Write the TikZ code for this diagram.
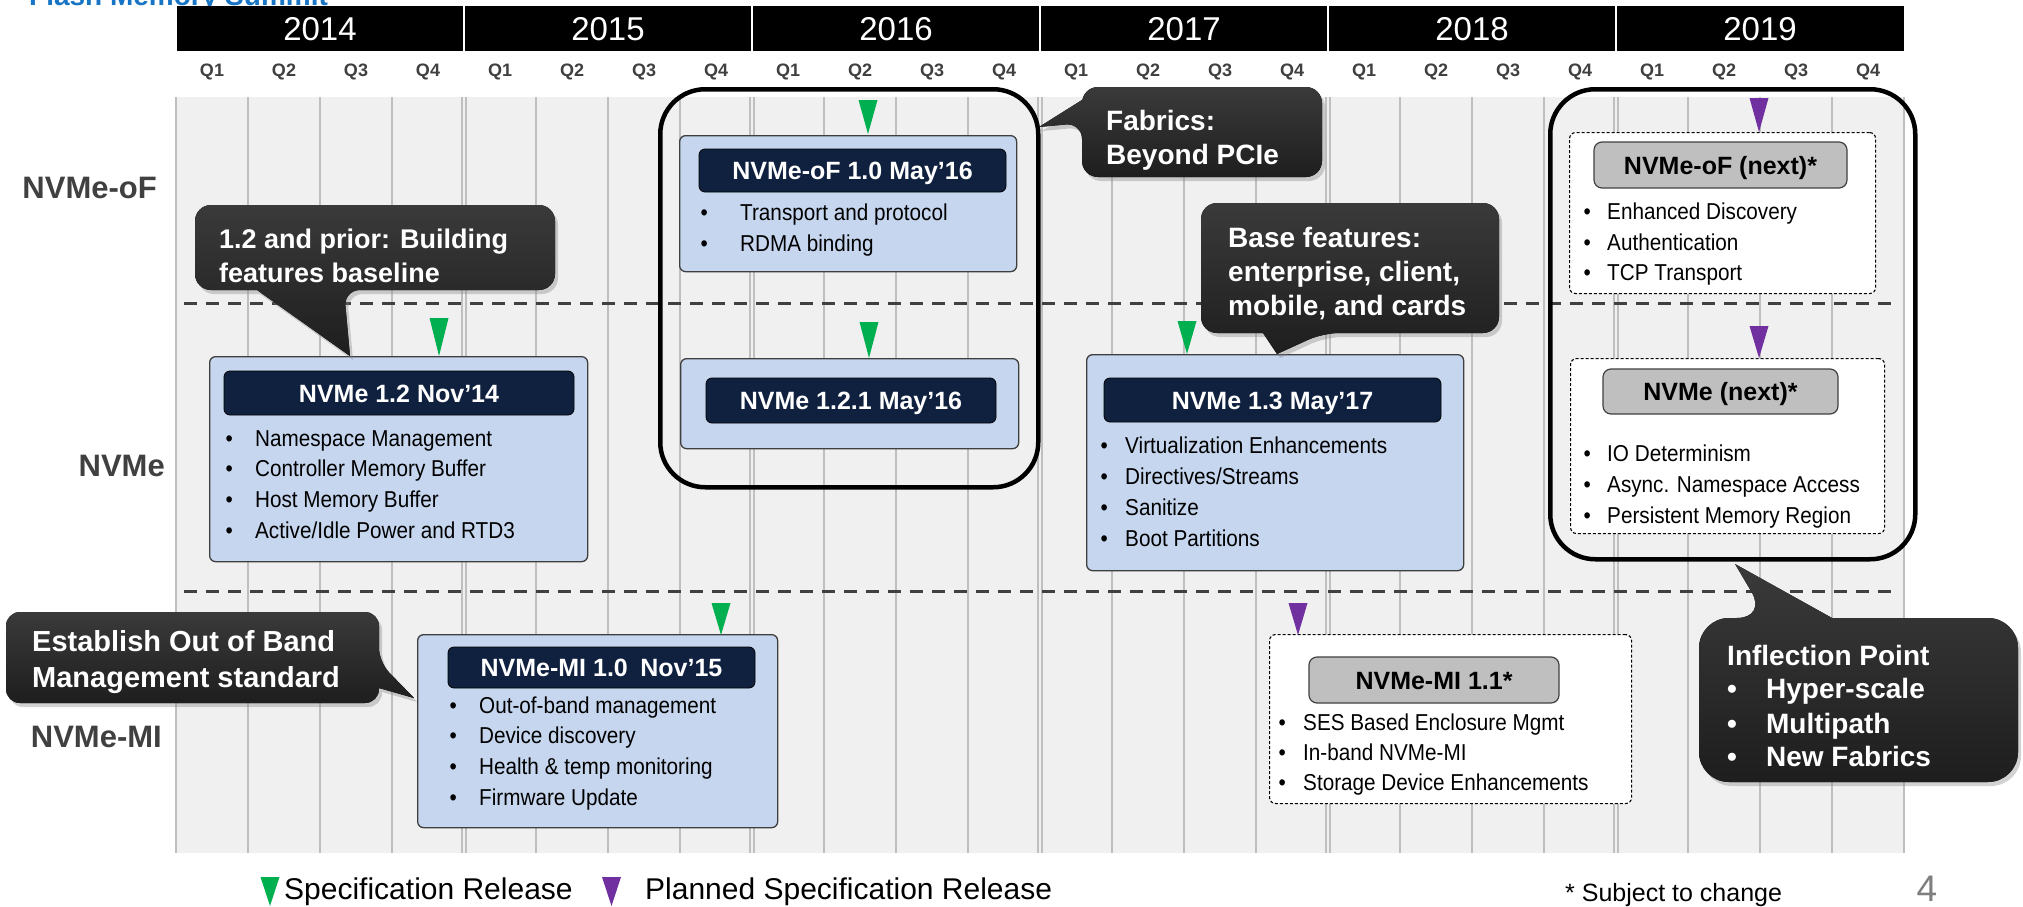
\documentclass[tikz,border=0pt]{standalone}
\usepackage{fontspec}
\setmainfont{Liberation Sans}
\newfontfamily\narrowfont[FakeStretch=0.9]{Liberation Sans}
\usetikzlibrary{shadows}
\definecolor{gridbg}{HTML}{F0F0F0}
\definecolor{gridln}{HTML}{BFBFBF}
\definecolor{dkgray}{HTML}{404040}
\definecolor{boxblue}{HTML}{C5D6EE}
\definecolor{boxedge}{HTML}{3F3F3F}
\definecolor{navy}{HTML}{0F213F}
\definecolor{hdrgray}{HTML}{BFBFBF}
\definecolor{specgreen}{HTML}{00B050}
\definecolor{planpurple}{HTML}{7030A0}
\definecolor{calltop}{HTML}{3A3A3A}
\definecolor{callbot}{HTML}{1E1E1E}
\definecolor{fmsblue}{HTML}{1874C4}
\definecolor{pagegray}{HTML}{7F7F7F}
\newcommand\myfs[1]{\fontsize{#1pt}{#1pt}\selectfont}
\newcommand\bitem[5]{\node[btext] (#1) at (#2,#3) {\makebox[#4pt][l]{\textbullet}#5};}
\newcommand\mytri[4]{\fill[#1] ({#2-9.5},#3) -- ({#2+9.5},#3) -- (#2,#4) -- cycle;}
\tikzset{
 yearlbl/.style={anchor=base, text=white, font=\myfs{33}, inner sep=0pt},
 qlbl/.style={anchor=base, text=dkgray, font=\bfseries\myfs{18}, inner sep=0pt},
 rowlbl/.style={anchor=base east, text=dkgray, font=\bfseries\myfs{31}, inner sep=0pt},
 gridline/.style={draw=gridln, line width=2.2pt},
 sepline/.style={draw=dkgray, line width=3pt, dash pattern=on 13pt off 9pt},
 bigframe/.style={draw=black, line width=4.5pt, rounded corners=45pt, anchor=north west, inner sep=0pt},
 bluebox/.style={fill=boxblue, draw=boxedge, line width=1.3pt, rounded corners=6pt, anchor=north west, inner sep=0pt},
 dotbox/.style={fill=white, draw=black, line width=1.1pt, dash pattern=on 3pt off 2pt, rounded corners=6pt, anchor=north west, inner sep=0pt},
 hdr/.style={fill=navy, draw=black, line width=0.8pt, rounded corners=6pt, text=white, font=\bfseries\myfs{25}, text height=18pt, text depth=0pt, inner sep=0pt},
 ghdr/.style={fill=hdrgray, draw=dkgray, line width=1.2pt, rounded corners=8pt, text=black, font=\bfseries\myfs{25}, text height=18pt, text depth=0pt, inner sep=0pt},
 btext/.style={anchor=base west, font=\narrowfont\myfs{23}, inner sep=0pt, text=black},
 ctext/.style={anchor=base west, font=\bfseries\myfs{28}, text=white, inner sep=0pt},
 calloutbox/.style={top color=calltop, bottom color=callbot, draw=none, drop shadow={shadow xshift=3pt, shadow yshift=-4pt, opacity=0.35}},
 specmark/.style={fill=specgreen},
 planmark/.style={fill=planpurple},
 legtext/.style={anchor=base west, font=\myfs{30}, inner sep=0pt, text=black},
}
\begin{document}
\begin{tikzpicture}[x=1pt,y=-1pt]
\useasboundingbox (0,0) rectangle (2023,907);
\fill[white] (0,0) rectangle (2023,907);
\node[anchor=base west, inner sep=0pt, text=fmsblue, font=\bfseries\myfs{28}] (logo) at (29,6) {Flash Memory Summit};

% year bar
\fill[black] (177,6) rectangle (1904,51);
\foreach \yr [count=\i from 0] in {2014,2015,2016,2017,2018,2019}{
  \node[yearlbl] (y\yr) at ({176+288*\i+144},41) {\yr};
  \foreach \q in {1,2,3,4}{\node[qlbl] (q\yr\q) at ({176+288*\i+72*\q-36},76.5) {Q\q};}
}
\foreach \i in {1,...,5}{\draw[white, line width=1.5pt] ({176+288*\i},6) -- ({176+288*\i},51);}

% grid
\fill[gridbg] (176,97) rectangle (1904,853);
\foreach \i in {0,...,5}{\foreach \q in {1,2,3}{\draw[gridline] ({176+288*\i+72*\q},97) -- ({176+288*\i+72*\q},853);}}
\foreach \i in {1,...,5}{\draw[gridline] ({176+288*\i-2},97) -- ({176+288*\i-2},853);
  \draw[gridline] ({176+288*\i+2},97) -- ({176+288*\i+2},853);}
\draw[gridline] (176,97) -- (176,853);
\draw[gridline] (1904,97) -- (1904,853);

% row separators
\coordinate (s1a) at (184,303); \coordinate (s1b) at (1899,303);
\coordinate (s2a) at (184,591); \coordinate (s2b) at (1899,591);
\draw[sepline] (s1a) -- (s1b);
\draw[sepline] (s2a) -- (s2b);

% row labels
\node[rowlbl] (rof) at (157,198) {NVMe-oF};
\node[rowlbl] (rnv) at (165,476) {NVMe};
\node[rowlbl] (rmi) at (162,747) {NVMe-MI};

% big frames
\node[bigframe, minimum width=378pt, minimum height=398pt] (f16) at (658,87) {};
\node[bigframe, minimum width=365pt, minimum height=470pt] (f19) at (1548,87) {};

% NVMe 1.2
\node[bluebox, minimum width=378pt, minimum height=205pt] (b12) at (209,356) {};
\node[hdr, minimum width=350pt, minimum height=44pt] (b12h) at (399,393) {NVMe 1.2 Nov’14};
\bitem{b12a}{225.4}{446}{29.6}{Namespace Management}
\bitem{b12b}{225.4}{476}{29.6}{Controller Memory Buffer}
\bitem{b12c}{225.4}{507}{29.6}{Host Memory Buffer}
\bitem{b12d}{225.4}{538}{29.6}{Active/Idle Power and RTD3}

% NVMe-oF 1.0
\node[bluebox, minimum width=337pt, minimum height=136pt] (bof) at (679,135) {};
\node[hdr, minimum width=307pt, minimum height=43pt] (bofh) at (852.5,170.5) {NVMe-oF 1.0 May’16};
\bitem{bofa}{700.4}{220}{39.6}{Transport and protocol}
\bitem{bofb}{700.4}{251}{39.6}{RDMA binding}

% NVMe 1.2.1
\node[bluebox, minimum width=338pt, minimum height=90pt] (b121) at (680,358) {};
\node[hdr, minimum width=290pt, minimum height=45pt] (b121h) at (851,400.5) {NVMe 1.2.1 May’16};

% NVMe 1.3
\node[bluebox, minimum width=377pt, minimum height=216pt] (b13) at (1086,354) {};
\node[hdr, minimum width=337pt, minimum height=44pt] (b13h) at (1272.5,400) {NVMe 1.3 May’17};
\bitem{b13a}{1100.4}{453}{24.6}{Virtualization Enhancements}
\bitem{b13b}{1100.4}{484}{24.6}{Directives/Streams}
\bitem{b13c}{1100.4}{515}{24.6}{Sanitize}
\bitem{b13d}{1100.4}{546}{24.6}{Boot Partitions}

% NVMe-MI 1.0
\node[bluebox, minimum width=360pt, minimum height=193pt] (bmi10) at (417,634) {};
\node[hdr, minimum width=307pt, minimum height=41pt] (bmi10h) at (601.5,667.5) {NVMe-MI 1.0\hspace{0.5em}Nov’15};
\bitem{bmia}{449.4}{713}{29.6}{Out-of-band management}
\bitem{bmib}{449.4}{743}{29.6}{Device discovery}
\bitem{bmic}{449.4}{774}{29.6}{Health \& temp monitoring}
\bitem{bmid}{449.4}{805}{29.6}{Firmware Update}

% NVMe-MI 1.1 (planned)
\node[dotbox, minimum width=362pt, minimum height=169pt] (bmi11) at (1269,634) {};
\node[ghdr, minimum width=250pt, minimum height=46pt] (bmi11h) at (1434,680) {NVMe-MI 1.1*};
\bitem{bmxa}{1278.4}{730}{24.6}{SES Based Enclosure Mgmt}
\bitem{bmxb}{1278.4}{760}{24.6}{In-band NVMe-MI}
\bitem{bmxc}{1278.4}{790}{24.6}{Storage Device Enhancements}

% NVMe-oF next
\node[dotbox, minimum width=306pt, minimum height=161pt] (bofn) at (1569,132) {};
\node[ghdr, minimum width=253pt, minimum height=46pt] (bofnh) at (1720.5,165) {NVMe-oF (next)*};
\bitem{bona}{1583.4}{219}{23.6}{Enhanced Discovery}
\bitem{bonb}{1583.4}{250}{23.6}{Authentication}
\bitem{bonc}{1583.4}{280}{23.6}{TCP Transport}

% NVMe next
\node[dotbox, minimum width=314pt, minimum height=175pt] (bnn) at (1570,358) {};
\node[ghdr, minimum width=235pt, minimum height=45pt] (bnnh) at (1720.5,391.5) {NVMe (next)*};
\bitem{bnna}{1583.4}{461}{23.6}{IO Determinism}
\bitem{bnnb}{1583.4}{492}{23.6}{Async. Namespace Access}
\bitem{bnnc}{1583.4}{523}{23.6}{Persistent Memory Region}

% callouts
\fill[calloutbox, rounded corners=16pt] (195,205) -- (555,205) -- (555,290) -- (344,290) [sharp corners] -- (350,356) -- (257,290) [rounded corners=16pt] -- (195,290) -- cycle;
\node[ctext, font=\bfseries\myfs{27}] (c1a) at (219,248) {1.2 and prior: Building};
\node[ctext, font=\bfseries\myfs{27}] (c1b) at (219,282) {features baseline};

\fill[calloutbox, rounded corners=16pt] (1082,87) -- (1322,87) -- (1322,177) -- (1082,177) -- (1082,123) [sharp corners] -- (1039,127) -- (1082,100) [rounded corners=16pt] -- cycle;
\node[ctext] (c2a) at (1106,130) {Fabrics:};
\node[ctext] (c2b) at (1106,164) {Beyond PCIe};

\fill[calloutbox, rounded corners=16pt] (1201,203) -- (1499,203) -- (1499,333) -- (1323,333) [sharp corners] -- (1277,354) -- (1263,333) [rounded corners=16pt] -- (1201,333) -- cycle;
\node[ctext] (c3a) at (1228,247) {Base features:};
\node[ctext] (c3b) at (1228,281) {enterprise, client,};
\node[ctext] (c3c) at (1228,315) {mobile, and cards};

\fill[calloutbox, rounded corners=14pt] (6,612) -- (379,612) -- (379,662) [sharp corners] -- (414,698) -- (379,688) [rounded corners=14pt] -- (379,703) -- (6,703) -- cycle;
\node[ctext, font=\bfseries\myfs{29}] (c4a) at (32,651) {Establish Out of Band};
\node[ctext, font=\bfseries\myfs{29}] (c4b) at (32,687) {Management standard};

\fill[calloutbox, rounded corners=30pt] (1699,618) -- (1767,618) [sharp corners] -- (1735,564) -- (1832,618) [rounded corners=30pt] -- (2018,618) -- (2018,782) -- (1699,782) -- cycle;
\node[ctext] (c5a) at (1727,665) {Inflection Point};
\node[ctext] (c5b) at (1727,698) {\makebox[38.9pt][l]{\textbullet}Hyper-scale};
\node[ctext] (c5c) at (1727,733) {\makebox[38.9pt][l]{\textbullet}Multipath};
\node[ctext] (c5d) at (1727,766) {\makebox[38.9pt][l]{\textbullet}New Fabrics};

% release markers
\mytri{specmark}{868}{100}{134}
\mytri{specmark}{869}{322}{358}
\mytri{specmark}{439}{318}{356}
\mytri{specmark}{1187}{321}{354}
\mytri{specmark}{721}{603}{635}
\mytri{planmark}{1759}{98}{132}
\mytri{planmark}{1759}{326}{358}
\mytri{planmark}{1298}{603}{635}

% legend
\mytri{specmark}{270}{877}{906}
\node[legtext] (leg1) at (284,899) {Specification Release};
\mytri{planmark}{611.5}{877}{906}
\node[legtext] (leg2) at (645,899) {Planned Specification Release};
\node[anchor=base west, font=\myfs{25}, inner sep=0pt] (note) at (1565,901) {* Subject to change};
\node[anchor=base, font=\myfs{37}, text=pagegray, inner sep=0pt] (pnum) at (1927,901) {4};
\end{tikzpicture}
\end{document}
